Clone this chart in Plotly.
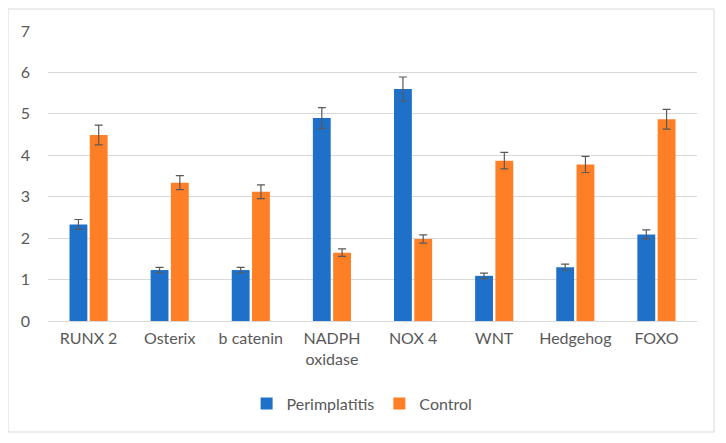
import plotly.graph_objects as go

categories = ["RUNX 2", "Osterix", "b catenin", "NADPH<br>oxidase", "NOX 4", "WNT", "Hedgehog", "FOXO"]
perim_values = [2.33, 1.23, 1.23, 4.90, 5.60, 1.09, 1.30, 2.09]
perim_errors = [0.12, 0.065, 0.065, 0.25, 0.29, 0.065, 0.075, 0.11]
control_values = [4.49, 3.34, 3.12, 1.65, 1.98, 3.87, 3.78, 4.87]
control_errors = [0.24, 0.17, 0.165, 0.09, 0.10, 0.20, 0.195, 0.24]
y_ticks = [0, 1, 2, 3, 4, 5, 6, 7]

font_family = "Lato, Carlito, 'Liberation Sans', sans-serif"
text_color = "#595959"
err_color = "#595959"

fig = go.Figure()
fig.add_trace(go.Bar(
    name="Perimplatitis", x=categories, y=perim_values,
    marker=dict(color="#1F70C8", line=dict(width=0)),
    error_y=dict(type="data", array=perim_errors, visible=True,
                 color=err_color, thickness=1.2, width=4),
))
fig.add_trace(go.Bar(
    name="Control", x=categories, y=control_values,
    marker=dict(color="#FF7F27", line=dict(width=0)),
    error_y=dict(type="data", array=control_errors, visible=True,
                 color=err_color, thickness=1.2, width=4),
))

fig.update_layout(
    width=718, height=435,
    margin=dict(l=40, r=29, t=23, b=122),
    paper_bgcolor="white", plot_bgcolor="white",
    barmode="group", bargap=0.5, bargroupgap=0.12,
    font=dict(family=font_family, size=16, color=text_color),
    showlegend=True,
    legend=dict(orientation="h", x=0.484, xanchor="center", y=-0.285, yanchor="middle",
                font=dict(size=16, color=text_color), itemwidth=30,
                traceorder="normal"),
    xaxis=dict(showgrid=False, showline=True, linecolor="#d9d9d9", linewidth=1,
               ticks="", tickfont=dict(size=16, color=text_color), ticklabelstandoff=3),
    yaxis=dict(range=[0, 7], tickvals=y_ticks, showgrid=True, gridcolor="#d9d9d9",
               gridwidth=1, zeroline=False, showline=False, ticks="",
               tickfont=dict(size=16, color=text_color), ticklabelstandoff=17),
    shapes=[dict(type="rect", xref="paper", yref="paper",
                 x0=(8 - 48) / 649, x1=(714 - 48) / 649,
                 y0=(321 - 432) / 290, y1=(321 - 9) / 290,
                 line=dict(color="#d9d9d9", width=1), fillcolor="rgba(0,0,0,0)",
                 layer="below")],
)

fig.write_html("out.html")
